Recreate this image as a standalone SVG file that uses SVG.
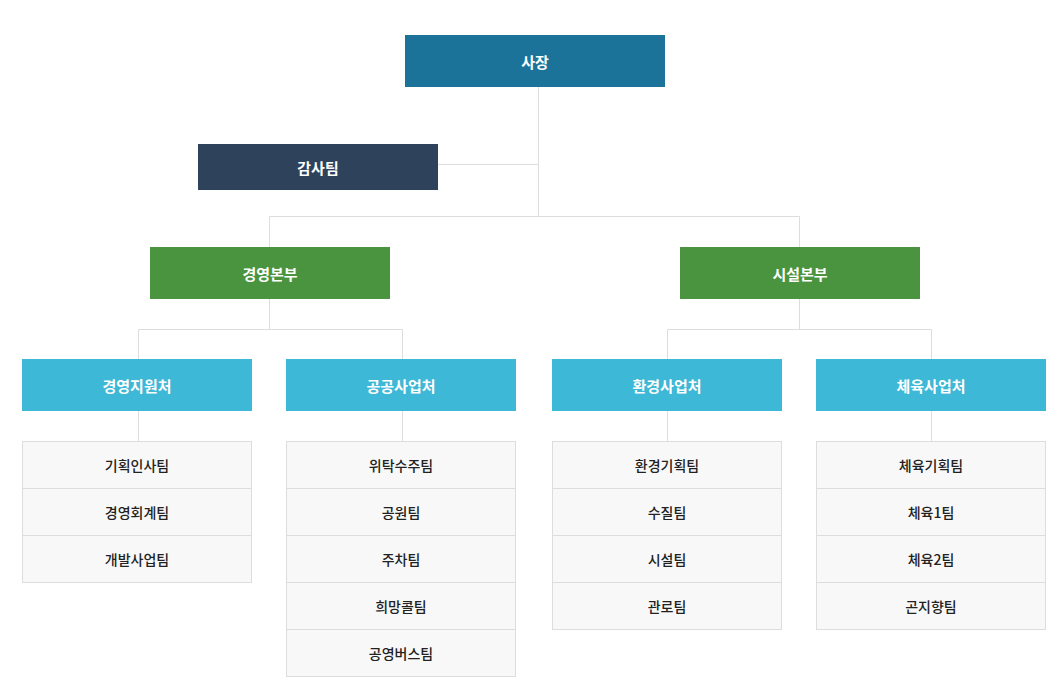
<svg xmlns="http://www.w3.org/2000/svg" width="1059" height="690" viewBox="0 0 1059 690">
<style>
text{font-family:"Noto Sans CJK KR","Noto Sans",sans-serif;text-anchor:middle;dominant-baseline:central}
.h{fill:#fff;font-size:15px;font-weight:bold}
.l{fill:#222;font-size:14px;font-weight:500}
.row{fill:#f8f8f8;stroke:#dddddd;stroke-width:1}
.ln{stroke:#dddddd;stroke-width:1;fill:none}
</style>
<rect width="1059" height="690" fill="#fff"/>
<g id="connectors">
<path class="ln" d="M538.5 87V216.5M438 164.5H538.5M269.5 216.5H799.5M269.5 216.5V247M799.5 216.5V247"/>
<path class="ln" d="M269.5 299V329.5M138.5 329.5H402.5M138.5 329.5V359M402.5 329.5V359"/>
<path class="ln" d="M799.5 299V329.5M667.5 329.5H931.5M667.5 329.5V359M931.5 329.5V359"/>
<path class="ln" d="M138.5 411V441M402.5 411V441M667.5 411V441M931.5 411V441"/>
</g>
<g id="ceo"><rect x="405" y="35" width="260" height="52" fill="#1b7399"/><text class="h" x="535" y="61">사장</text></g>
<g id="audit"><rect x="198" y="144" width="240" height="46" fill="#2e425b"/><text class="h" x="318" y="167">감사팀</text></g>
<g id="hq1"><rect x="150" y="247" width="240" height="52" fill="#4a9440"/><text class="h" x="270" y="273">경영본부</text></g>
<g id="hq2"><rect x="680" y="247" width="240" height="52" fill="#4a9440"/><text class="h" x="800" y="273">시설본부</text></g>
<g id="d1"><rect x="22" y="359" width="230" height="52" fill="#3db8d6"/><text class="h" x="137" y="385">경영지원처</text></g>
<g id="d2"><rect x="286" y="359" width="230" height="52" fill="#3db8d6"/><text class="h" x="401" y="385">공공사업처</text></g>
<g id="d3"><rect x="552" y="359" width="230" height="52" fill="#3db8d6"/><text class="h" x="667" y="385">환경사업처</text></g>
<g id="d4"><rect x="816" y="359" width="230" height="52" fill="#3db8d6"/><text class="h" x="931" y="385">체육사업처</text></g>
<g id="list1">
<rect class="row" x="22.5" y="441.5" width="229" height="47"/><text class="l" x="137" y="465">기획인사팀</text>
<rect class="row" x="22.5" y="488.5" width="229" height="47"/><text class="l" x="137" y="512">경영회계팀</text>
<rect class="row" x="22.5" y="535.5" width="229" height="47"/><text class="l" x="137" y="559">개발사업팀</text>
</g>
<g id="list2">
<rect class="row" x="286.5" y="441.5" width="229" height="47"/><text class="l" x="401" y="465">위탁수주팀</text>
<rect class="row" x="286.5" y="488.5" width="229" height="47"/><text class="l" x="401" y="512">공원팀</text>
<rect class="row" x="286.5" y="535.5" width="229" height="47"/><text class="l" x="401" y="559">주차팀</text>
<rect class="row" x="286.5" y="582.5" width="229" height="47"/><text class="l" x="401" y="606">희망콜팀</text>
<rect class="row" x="286.5" y="629.5" width="229" height="47"/><text class="l" x="401" y="653">공영버스팀</text>
</g>
<g id="list3">
<rect class="row" x="552.5" y="441.5" width="229" height="47"/><text class="l" x="667" y="465">환경기획팀</text>
<rect class="row" x="552.5" y="488.5" width="229" height="47"/><text class="l" x="667" y="512">수질팀</text>
<rect class="row" x="552.5" y="535.5" width="229" height="47"/><text class="l" x="667" y="559">시설팀</text>
<rect class="row" x="552.5" y="582.5" width="229" height="47"/><text class="l" x="667" y="606">관로팀</text>
</g>
<g id="list4">
<rect class="row" x="816.5" y="441.5" width="229" height="47"/><text class="l" x="931" y="465">체육기획팀</text>
<rect class="row" x="816.5" y="488.5" width="229" height="47"/><text class="l" x="931" y="512">체육1팀</text>
<rect class="row" x="816.5" y="535.5" width="229" height="47"/><text class="l" x="931" y="559">체육2팀</text>
<rect class="row" x="816.5" y="582.5" width="229" height="47"/><text class="l" x="931" y="606">곤지향팀</text>
</g>
</svg>
